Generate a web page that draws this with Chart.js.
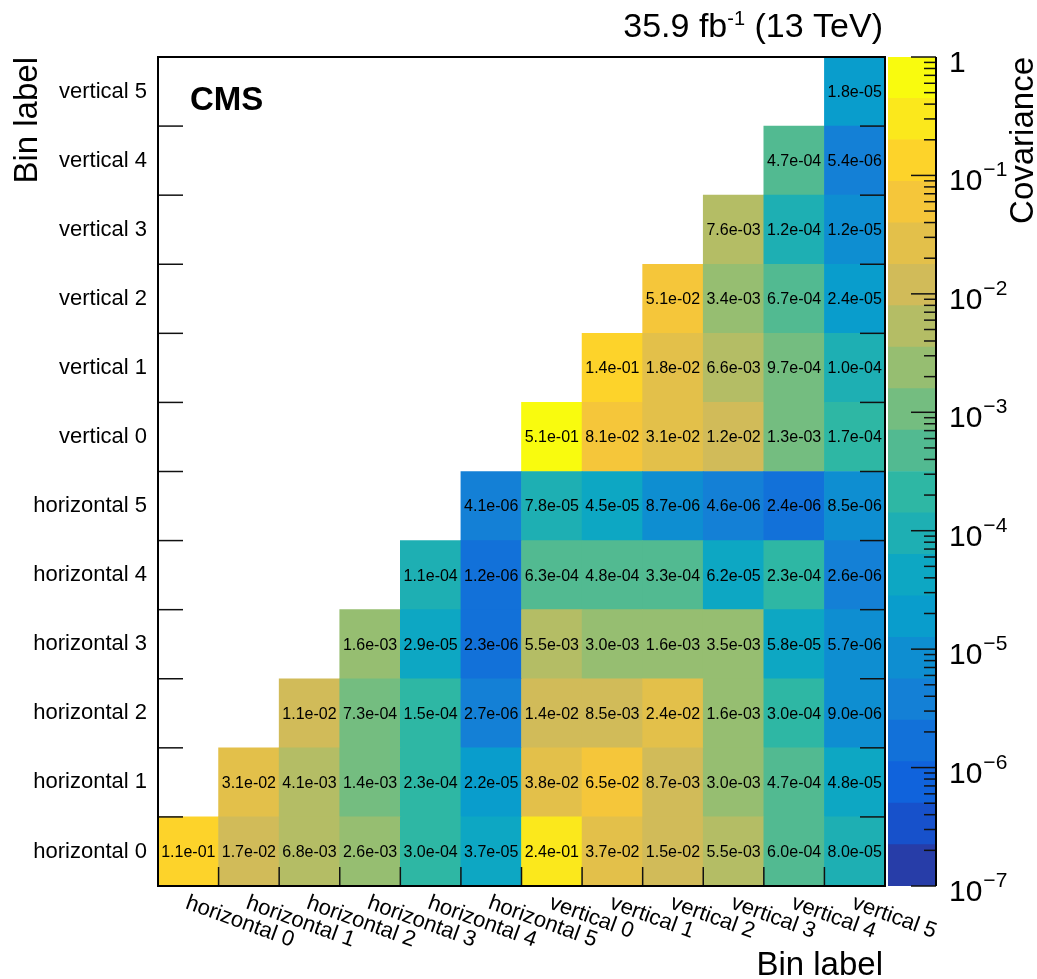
<!DOCTYPE html>
<html>
<head>
<meta charset="utf-8">
<title>Covariance</title>
<script src="https://cdn.jsdelivr.net/npm/chart.js@4.4.1/dist/chart.umd.min.js"></script>
<style>
  html, body { margin: 0; padding: 0; background: #fff; }
  #wrap { position: relative; width: 1037px; height: 979px; }
  #wrap canvas { position: absolute; left: 0; top: 0; }
</style>
</head>
<body>
<div id="wrap">
  <canvas id="covChart" width="1037" height="979"></canvas>
  <canvas id="scaleChart" width="1037" height="979"></canvas>
</div>
<script>
const FONT = "'Liberation Sans', Arial, Helvetica, sans-serif";

// bin labels, bottom to top (and left to right)
const binLabels = ['horizontal 0', 'horizontal 1', 'horizontal 2', 'horizontal 3', 'horizontal 4', 'horizontal 5',
                   'vertical 0', 'vertical 1', 'vertical 2', 'vertical 3', 'vertical 4', 'vertical 5'];

// covariance, one row per bin, starting at the diagonal
const covH0 = [1.1e-1, 1.7e-2, 6.8e-3, 2.6e-3, 3.0e-4, 3.7e-5, 2.4e-1, 3.7e-2, 1.5e-2, 5.5e-3, 6.0e-4, 8.0e-5];
const covH1 = [3.1e-2, 4.1e-3, 1.4e-3, 2.3e-4, 2.2e-5, 3.8e-2, 6.5e-2, 8.7e-3, 3.0e-3, 4.7e-4, 4.8e-5];
const covH2 = [1.1e-2, 7.3e-4, 1.5e-4, 2.7e-6, 1.4e-2, 8.5e-3, 2.4e-2, 1.6e-3, 3.0e-4, 9.0e-6];
const covH3 = [1.6e-3, 2.9e-5, 2.3e-6, 5.5e-3, 3.0e-3, 1.6e-3, 3.5e-3, 5.8e-5, 5.7e-6];
const covH4 = [1.1e-4, 1.2e-6, 6.3e-4, 4.8e-4, 3.3e-4, 6.2e-5, 2.3e-4, 2.6e-6];
const covH5 = [4.1e-6, 7.8e-5, 4.5e-5, 8.7e-6, 4.6e-6, 2.4e-6, 8.5e-6];
const covV0 = [5.1e-1, 8.1e-2, 3.1e-2, 1.2e-2, 1.3e-3, 1.7e-4];
const covV1 = [1.4e-1, 1.8e-2, 6.6e-3, 9.7e-4, 1.0e-4];
const covV2 = [5.1e-2, 3.4e-3, 6.7e-4, 2.4e-5];
const covV3 = [7.6e-3, 1.2e-4, 1.2e-5];
const covV4 = [4.7e-4, 5.4e-6];
const covV5 = [1.8e-5];
const covRows = [covH0, covH1, covH2, covH3, covH4, covH5, covV0, covV1, covV2, covV3, covV4, covV5];

// colour scale: 20 contour edges (log10) and labelled decades
const levelExponents = [-7, -6.65, -6.3, -5.95, -5.6, -5.25, -4.9, -4.55, -4.2, -3.85, -3.5,
                        -3.15, -2.8, -2.45, -2.1, -1.75, -1.4, -1.05, -0.7, -0.35, 0];
const decadeExponents = [0, -1, -2, -3, -4, -5, -6, -7];

// ROOT "bird" palette stops
const birdStops = [0, 0.125, 0.25, 0.375, 0.5, 0.625, 0.75, 0.875, 1];
const birdR = [0.2082, 0.0592, 0.0780, 0.0232, 0.1802, 0.5301, 0.8186, 0.9956, 0.9764];
const birdG = [0.1664, 0.3599, 0.5041, 0.6419, 0.7178, 0.7492, 0.7328, 0.7862, 0.9832];
const birdB = [0.5293, 0.8684, 0.8385, 0.7914, 0.6425, 0.4662, 0.3499, 0.1968, 0.0539];

function levelColor(k) {
  const pos = Math.floor((k + 0.99) * 255 / 20) / 254;
  let s = 0;
  while (s < birdStops.length - 2 && pos > birdStops[s + 1]) s++;
  const f = (pos - birdStops[s]) / (birdStops[s + 1] - birdStops[s]);
  const c = arr => Math.round(255 * (arr[s] + f * (arr[s + 1] - arr[s])));
  return `rgb(${c(birdR)}, ${c(birdG)}, ${c(birdB)})`;
}

function levelOf(v) {
  const lg = Math.log10(v);
  let k = 0;
  while (k < levelExponents.length - 2 && lg >= levelExponents[k + 1]) k++;
  return k;
}

function fmtSci(v) {
  const [m, e] = v.toExponential(1).split('e');
  const n = parseInt(e, 10);
  return m + 'e' + (n < 0 ? '-' : '+') + String(Math.abs(n)).padStart(2, '0');
}

// one floating-bar dataset per row
const datasets = covRows.map((vals, j) => ({
  label: binLabels[j],
  data: binLabels.map((_, i) => i >= j ? [j - 0.5, j + 0.5] : null),
  cov: binLabels.map((_, i) => i >= j ? vals[i - j] : null),
  backgroundColor: binLabels.map((_, i) => i >= j ? levelColor(levelOf(vals[i - j])) : 'rgba(0,0,0,0)'),
  borderWidth: 0,
  barPercentage: 1,
  categoryPercentage: 1,
  grouped: false
}));

function line(ctx, x1, y1, x2, y2) {
  ctx.beginPath();
  ctx.moveTo(x1, y1);
  ctx.lineTo(x2, y2);
  ctx.stroke();
}

const covDecor = {
  id: 'covDecor',
  afterDatasetsDraw(chart) {
    const { ctx, chartArea: a, scales: { x, y } } = chart;
    ctx.save();

    // values in the cells
    ctx.font = '16px ' + FONT;
    ctx.fillStyle = '#000';
    ctx.textAlign = 'center';
    ctx.textBaseline = 'middle';
    chart.data.datasets.forEach((ds, j) => {
      chart.getDatasetMeta(j).data.forEach((bar, i) => {
        const v = ds.cov[i];
        if (v == null) return;
        const p = bar.getCenterPoint();
        ctx.fillText(fmtSci(v), p.x, p.y + 1);
      });
    });

    // tick marks at the bin edges (left, right, bottom)
    ctx.strokeStyle = '#111';
    ctx.lineWidth = 1.5;
    for (let k = 0; k < binLabels.length - 1; k++) {
      const py = y.getPixelForValue(k + 0.5);
      line(ctx, a.left, py, a.left + 25, py);
      line(ctx, a.right - 25, py, a.right, py);
      const px = (x.getPixelForValue(k) + x.getPixelForValue(k + 1)) / 2;
      line(ctx, px, a.bottom, px, a.bottom - 19);
    }

    // frame
    ctx.strokeStyle = '#000';
    ctx.lineWidth = 2;
    ctx.strokeRect(a.left, a.top, a.right - a.left, a.bottom - a.top);

    // rotated x labels
    ctx.font = '22px ' + FONT;
    ctx.textAlign = 'left';
    ctx.textBaseline = 'top';
    binLabels.forEach((lab, i) => {
      ctx.save();
      ctx.translate(x.getPixelForValue(i) + 2, a.bottom + 6);
      ctx.rotate(20 * Math.PI / 180);
      ctx.fillText(lab, 0, 0);
      ctx.restore();
    });

    // axis titles
    ctx.font = '33px ' + FONT;
    ctx.textBaseline = 'alphabetic';
    ctx.textAlign = 'right';
    ctx.fillText('Bin label', a.right - 2, 975);
    ctx.save();
    ctx.translate(37, a.top);
    ctx.rotate(-Math.PI / 2);
    ctx.fillText('Bin label', 0, 0);
    ctx.restore();

    // CMS label
    ctx.font = 'bold 33px ' + FONT;
    ctx.textAlign = 'left';
    ctx.fillText('CMS', 190, 110);

    // luminosity label
    const big = '34px ' + FONT, sup = '20px ' + FONT;
    ctx.font = big;
    const wA = ctx.measureText('35.9 fb').width;
    const wC = ctx.measureText(' (13 TeV)').width;
    ctx.font = sup;
    const wB = ctx.measureText('-1').width;
    let xs = 883 - (wA + wB + wC);
    ctx.font = big;
    ctx.fillText('35.9 fb', xs, 37);
    ctx.font = sup;
    ctx.fillText('-1', xs + wA, 25);
    ctx.font = big;
    ctx.fillText(' (13 TeV)', xs + wA + wB, 37);

    ctx.restore();
  }
};

new Chart(document.getElementById('covChart'), {
  type: 'bar',
  data: { labels: binLabels, datasets: datasets },
  options: {
    responsive: false,
    animation: false,
    events: [],
    layout: { padding: { left: 0, top: 57, right: 152, bottom: 0 } },
    plugins: { legend: { display: false }, tooltip: { enabled: false } },
    scales: {
      x: {
        type: 'category',
        offset: true,
        grid: { display: false, drawTicks: false },
        border: { display: false },
        ticks: { display: false },
        afterFit: s => { s.height = 93; }
      },
      y: {
        type: 'linear',
        min: -0.5,
        max: 11.5,
        afterBuildTicks: s => { s.ticks = binLabels.map((_, i) => ({ value: i })); },
        grid: { display: false, drawTicks: false },
        border: { display: false },
        ticks: {
          autoSkip: false,
          padding: 11,
          color: '#000',
          font: { family: FONT, size: 22 },
          callback: v => binLabels[v]
        },
        afterFit: s => { s.width = 158; }
      }
    }
  },
  plugins: [covDecor]
});

// colour bar
const levelSets = levelExponents.slice(0, -1).map((e, k) => ({
  data: [[Math.pow(10, e), Math.pow(10, levelExponents[k + 1])]],
  backgroundColor: levelColor(k),
  borderWidth: 0,
  barPercentage: 1,
  categoryPercentage: 1,
  grouped: false
}));

const scaleDecor = {
  id: 'scaleDecor',
  afterDatasetsDraw(chart) {
    const { ctx, chartArea: a, scales: { y } } = chart;
    ctx.save();
    ctx.strokeStyle = '#111';
    ctx.lineWidth = 1.5;
    decadeExponents.forEach(e => {
      line(ctx, a.right - 25, y.getPixelForValue(Math.pow(10, e)), a.right, y.getPixelForValue(Math.pow(10, e)));
      if (e < 0) {
        for (let m = 2; m <= 9; m++) {
          const py = y.getPixelForValue(m * Math.pow(10, e));
          line(ctx, a.right - 12, py, a.right, py);
        }
      }
    });
    ctx.lineWidth = 2;
    ctx.strokeStyle = '#000';
    line(ctx, a.right, a.top, a.right, a.bottom);

    // decade labels
    ctx.fillStyle = '#000';
    ctx.textAlign = 'left';
    ctx.textBaseline = 'alphabetic';
    decadeExponents.forEach(e => {
      const py = y.getPixelForValue(Math.pow(10, e));
      const x0 = a.right + 13;
      ctx.font = '30px ' + FONT;
      if (e === 0) {
        ctx.fillText('1', x0, py + 15);
      } else {
        ctx.fillText('10', x0, py + 15);
        const w = ctx.measureText('10').width;
        ctx.font = '21px ' + FONT;
        ctx.fillText('\u2212' + (-e), x0 + w + 1, py + 1);
      }
    });

    // title
    ctx.font = '33px ' + FONT;
    ctx.textAlign = 'right';
    ctx.save();
    ctx.translate(1033, a.top);
    ctx.rotate(-Math.PI / 2);
    ctx.fillText('Covariance', 0, 0);
    ctx.restore();
    ctx.restore();
  }
};

new Chart(document.getElementById('scaleChart'), {
  type: 'bar',
  data: { labels: ['scale'], datasets: levelSets },
  options: {
    responsive: false,
    animation: false,
    events: [],
    layout: { padding: { left: 888, top: 57, right: 0, bottom: 93 } },
    plugins: { legend: { display: false }, tooltip: { enabled: false } },
    scales: {
      x: { display: false },
      y: {
        type: 'logarithmic',
        position: 'right',
        min: 1e-7,
        max: 1,
        grid: { display: false, drawTicks: false },
        border: { display: false },
        ticks: { display: false },
        afterFit: s => { s.width = 101; }
      }
    }
  },
  plugins: [scaleDecor]
});
</script>
</body>
</html>
